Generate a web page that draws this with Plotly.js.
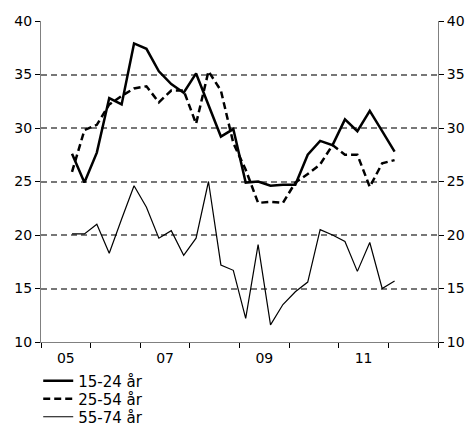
<!DOCTYPE html>
<html>
<head>
<meta charset="utf-8">
<script src="https://cdn.plot.ly/plotly-3.0.1.min.js"></script>
<style>html,body{margin:0;padding:0;background:#fff;}#chart{width:471px;height:426px;}</style>
</head>
<body>
<div id="chart"></div>
<script>
// Quarters 2005 Q3 .. 2012 Q1
var quarters = ["2005K3","2005K4","2006K1","2006K2","2006K3","2006K4","2007K1","2007K2","2007K3","2007K4",
  "2008K1","2008K2","2008K3","2008K4","2009K1","2009K2","2009K3","2009K4","2010K1","2010K2","2010K3","2010K4",
  "2011K1","2011K2","2011K3","2011K4","2012K1"];
var age15_24 = [27.6,24.9,27.7,32.8,32.2,37.9,37.4,35.3,34.1,33.3,35.1,32.1,29.2,29.9,24.9,25.0,24.6,24.7,24.7,
  27.5,28.8,28.4,30.8,29.7,31.6,29.7,27.8];
var age25_54 = [25.9,29.8,30.3,32.2,33.0,33.7,33.9,32.4,33.5,33.5,30.4,35.3,33.5,28.6,26.1,23.0,23.1,23.0,24.9,
  25.7,26.6,28.4,27.5,27.5,24.5,26.7,27.0];
var age55_74 = [20.1,20.1,21.0,18.3,21.5,24.6,22.6,19.7,20.4,18.1,19.7,25.0,17.2,16.7,12.2,19.1,11.6,13.5,14.7,
  15.6,20.5,20.0,19.4,16.6,19.3,15.0,15.7];
var seriesNames = ["15-24 år","25-54 år","55-74 år"];
var yearLabelVals = [2005,2007,2009,2011];
var yearLabelText = ["05","07","09","11"];

function qx(q){ var y=parseInt(q.slice(0,4),10), k=parseInt(q.slice(5),10); return y + (k-0.5)/4; }
var xs = quarters.map(qx);

var font = {family:"DejaVu Sans, Verdana, sans-serif", size:14, color:"#000"};
var legFont = {family:"DejaVu Sans, Verdana, sans-serif", size:15, color:"#000"};
var traces = [
  {x:xs, y:age15_24, name:seriesNames[0], type:"scatter", mode:"lines", line:{color:"#000", width:2.5}, legend:"legend"},
  {x:xs, y:age25_54, name:seriesNames[1], type:"scatter", mode:"lines", line:{color:"#000", width:2.5, dash:"7px,4px"}, legend:"legend2"},
  {x:xs, y:age55_74, name:seriesNames[2], type:"scatter", mode:"lines", line:{color:"#000", width:1.2}, legend:"legend3"},
  {x:[xs[0]], y:[age15_24[0]], yaxis:"y2", showlegend:false, hoverinfo:"skip", mode:"none", type:"scatter"}
];
function leg(y){ return {x:-0.007, xanchor:"left", y:y, yanchor:"middle", font:legFont, bgcolor:"rgba(0,0,0,0)"}; }
var layout = {
  width:471, height:426,
  margin:{l:41, r:33, t:21, b:84, autoexpand:false},
  paper_bgcolor:"#fff", plot_bgcolor:"#fff",
  font:font,
  showlegend:true,
  legend:leg(-0.1215),
  legend2:leg(-0.1776),
  legend3:leg(-0.2336),
  xaxis:{range:[2005,2013], tickmode:"array", tickvals:yearLabelVals.map(function(v){return v+0.5;}), ticktext:yearLabelText,
    ticks:"", ticklabelstandoff:3, showgrid:false, zeroline:false, showline:true, linecolor:"#808080", linewidth:1, automargin:false,
    minor:{ticks:"outside", tick0:2005, dtick:1, ticklen:5, tickcolor:"#000", tickwidth:1, showgrid:false},
    tickfont:font},
  yaxis:{range:[10,40], dtick:5, ticks:"outside", ticklen:5, tickcolor:"#000", showline:true, linecolor:"#808080", linewidth:1,
    showgrid:true, gridcolor:"#777", gridwidth:2, griddash:"6px,4px", zeroline:false, tickfont:font, automargin:false},
  yaxis2:{range:[10,40], dtick:5, overlaying:"y", side:"right", ticks:"outside", ticklen:5, tickcolor:"#000", showline:true,
    linecolor:"#808080", linewidth:1, showgrid:false, zeroline:false, tickfont:font, automargin:false}
};
Plotly.newPlot("chart", traces, layout, {staticPlot:true, displayModeBar:false});
</script>
</body>
</html>
